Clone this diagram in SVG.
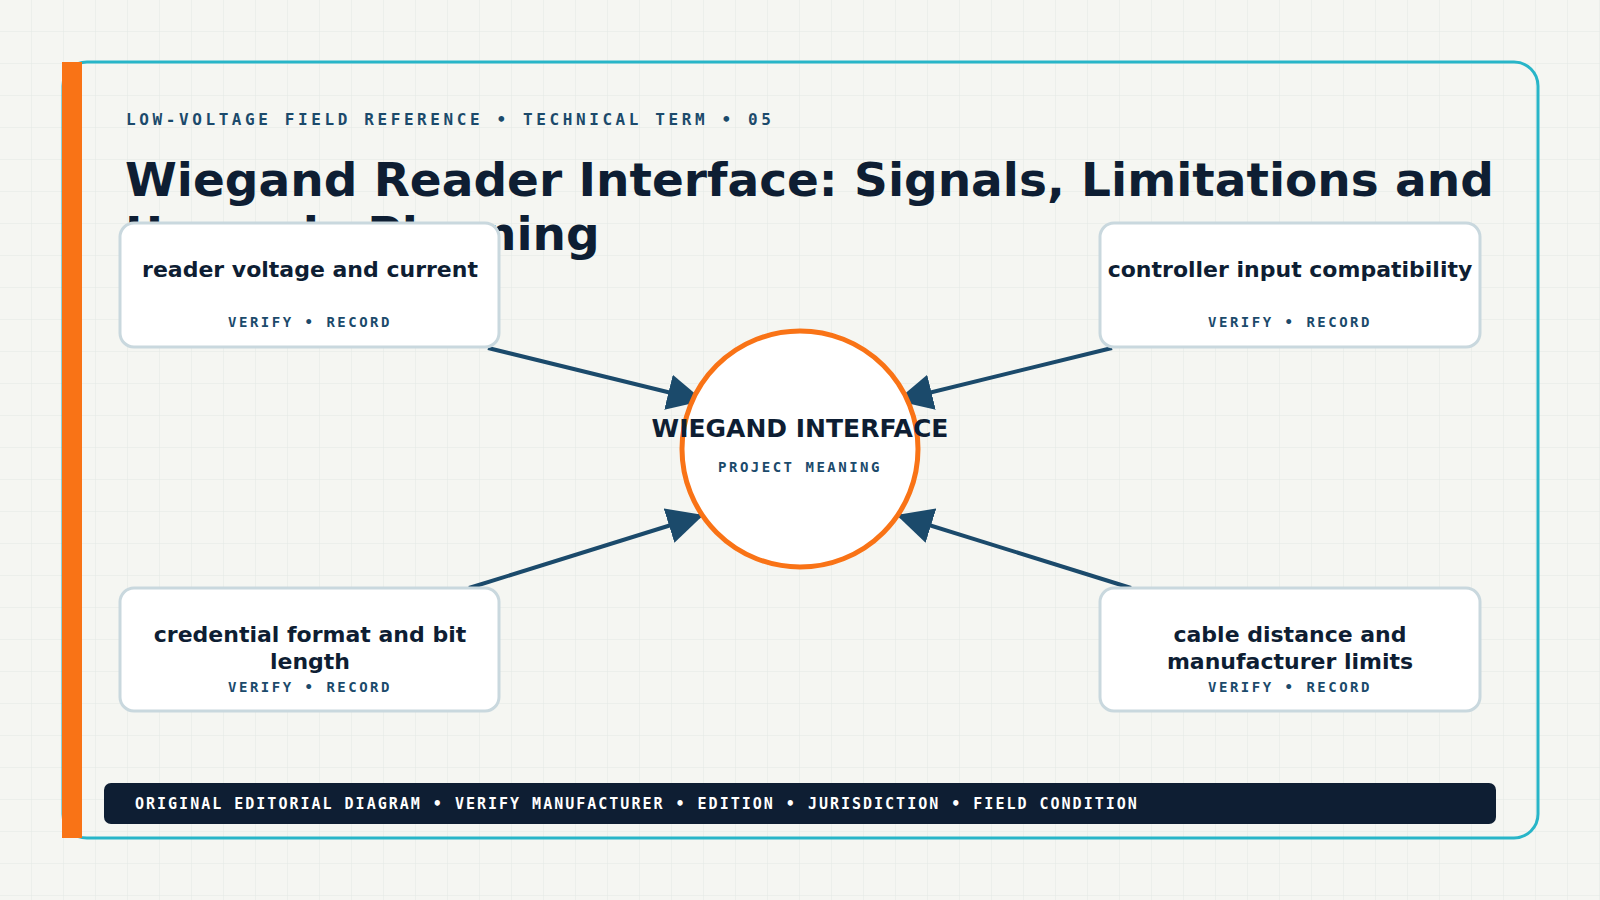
<svg xmlns="http://www.w3.org/2000/svg" width="1600" height="900" viewBox="0 0 1600 900">
<defs>
<pattern id="grid" width="32" height="32" patternUnits="userSpaceOnUse"><path d="M32 0V32H0" fill="none" stroke="#e3e8e4" stroke-width="1"/></pattern>
<marker id="ah" viewBox="0 0 10 10" refX="9" refY="5" markerWidth="9" markerHeight="9" markerUnits="strokeWidth" orient="auto"><path d="M0,0L10,5L0,10z" fill="#1b4a6b"/></marker>
<style>
.mono{font-family:"DejaVu Sans Mono",monospace;font-weight:bold;fill:#1b4a6b}
.sans{font-family:"DejaVu Sans",sans-serif;font-weight:bold;fill:#0e1e33}
.box{fill:#fff;stroke:#c9d8de;stroke-width:3}
.conn{stroke:#1b4a6b;stroke-width:4;fill:none;marker-end:url(#ah)}
</style>
</defs>
<rect width="1600" height="900" fill="#f5f6f2"/>
<rect width="1600" height="900" fill="url(#grid)"/>
<rect x="63" y="62" width="1475" height="776" rx="24" fill="none" stroke="#28b5c8" stroke-width="3"/>
<rect x="62" y="62" width="20" height="776" fill="#f97316"/>
<text x="126" y="125" class="mono" font-size="16" letter-spacing="3.6">LOW-VOLTAGE FIELD REFERENCE • TECHNICAL TERM • 05</text>
<text x="125" y="196" class="sans" font-size="47">Wiegand Reader Interface: Signals, Limitations and</text>
<text x="125" y="250" class="sans" font-size="47">Upgrade Planning</text>
<g id="connectors">
<line class="conn" x1="488" y1="348" x2="700" y2="400"/>
<line class="conn" x1="1112" y1="348" x2="900" y2="400"/>
<line class="conn" x1="469" y1="588" x2="700" y2="516"/>
<line class="conn" x1="1131" y1="588" x2="900" y2="516"/>
</g>
<g id="n1"><rect class="box" x="120" y="223" width="379" height="124" rx="14"/>
<text x="310" y="277" class="sans" font-size="22" text-anchor="middle">reader voltage and current</text>
<text x="310" y="327" class="mono" font-size="14" letter-spacing="2.5" text-anchor="middle">VERIFY • RECORD</text></g>
<g id="n2"><rect class="box" x="1100" y="223" width="380" height="124" rx="14"/>
<text x="1290" y="277" class="sans" font-size="22" text-anchor="middle">controller input compatibility</text>
<text x="1290" y="327" class="mono" font-size="14" letter-spacing="2.5" text-anchor="middle">VERIFY • RECORD</text></g>
<g id="n3"><rect class="box" x="120" y="588" width="379" height="123" rx="14"/>
<text x="310" y="642" class="sans" font-size="22" text-anchor="middle">credential format and bit</text>
<text x="310" y="669" class="sans" font-size="22" text-anchor="middle">length</text>
<text x="310" y="692" class="mono" font-size="14" letter-spacing="2.5" text-anchor="middle">VERIFY • RECORD</text></g>
<g id="n4"><rect class="box" x="1100" y="588" width="380" height="123" rx="14"/>
<text x="1290" y="642" class="sans" font-size="22" text-anchor="middle">cable distance and</text>
<text x="1290" y="669" class="sans" font-size="22" text-anchor="middle">manufacturer limits</text>
<text x="1290" y="692" class="mono" font-size="14" letter-spacing="2.5" text-anchor="middle">VERIFY • RECORD</text></g>
<g id="center"><circle cx="800" cy="449" r="118" fill="#fff" stroke="#f97316" stroke-width="5"/>
<text x="800" y="437" class="sans" font-size="25" text-anchor="middle">WIEGAND INTERFACE</text>
<text x="800" y="472" class="mono" font-size="14" letter-spacing="2.5" text-anchor="middle">PROJECT MEANING</text></g>
<rect x="104" y="783" width="1392" height="41" rx="7" fill="#0e1e33"/>
<text x="135" y="809" class="mono" font-size="15" letter-spacing="2.0" style="fill:#fff">ORIGINAL EDITORIAL DIAGRAM • VERIFY MANUFACTURER • EDITION • JURISDICTION • FIELD CONDITION</text>
</svg>
